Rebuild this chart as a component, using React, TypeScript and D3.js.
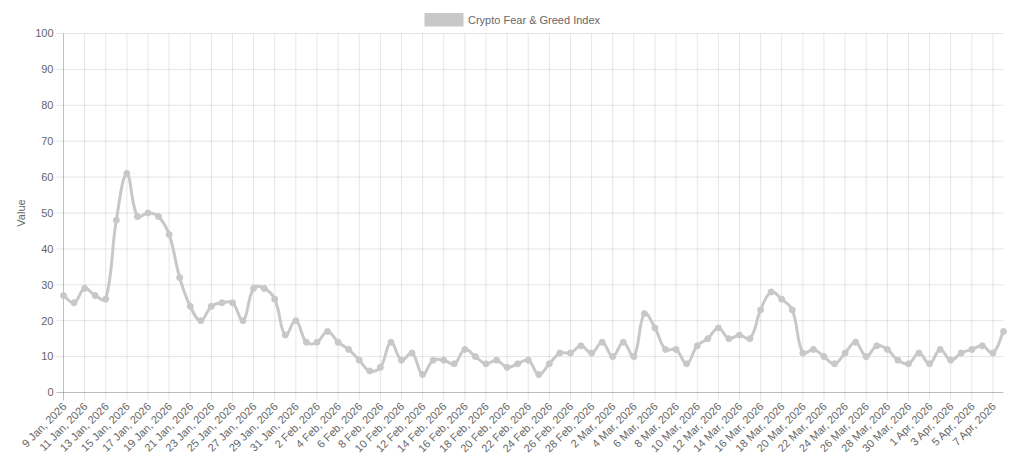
import React from "react";
import * as d3 from "d3";

const dates: string[] = [
  "9 Jan, 2026","10 Jan, 2026","11 Jan, 2026","12 Jan, 2026","13 Jan, 2026","14 Jan, 2026","15 Jan, 2026","16 Jan, 2026","17 Jan, 2026","18 Jan, 2026",
  "19 Jan, 2026","20 Jan, 2026","21 Jan, 2026","22 Jan, 2026","23 Jan, 2026","24 Jan, 2026","25 Jan, 2026","26 Jan, 2026","27 Jan, 2026","28 Jan, 2026",
  "29 Jan, 2026","30 Jan, 2026","31 Jan, 2026","1 Feb, 2026","2 Feb, 2026","3 Feb, 2026","4 Feb, 2026","5 Feb, 2026","6 Feb, 2026","7 Feb, 2026",
  "8 Feb, 2026","9 Feb, 2026","10 Feb, 2026","11 Feb, 2026","12 Feb, 2026","13 Feb, 2026","14 Feb, 2026","15 Feb, 2026","16 Feb, 2026","17 Feb, 2026",
  "18 Feb, 2026","19 Feb, 2026","20 Feb, 2026","21 Feb, 2026","22 Feb, 2026","23 Feb, 2026","24 Feb, 2026","25 Feb, 2026","26 Feb, 2026","27 Feb, 2026",
  "28 Feb, 2026","1 Mar, 2026","2 Mar, 2026","3 Mar, 2026","4 Mar, 2026","5 Mar, 2026","6 Mar, 2026","7 Mar, 2026","8 Mar, 2026","9 Mar, 2026",
  "10 Mar, 2026","11 Mar, 2026","12 Mar, 2026","13 Mar, 2026","14 Mar, 2026","15 Mar, 2026","16 Mar, 2026","17 Mar, 2026","18 Mar, 2026","19 Mar, 2026",
  "20 Mar, 2026","21 Mar, 2026","22 Mar, 2026","23 Mar, 2026","24 Mar, 2026","25 Mar, 2026","26 Mar, 2026","27 Mar, 2026","28 Mar, 2026","29 Mar, 2026",
  "30 Mar, 2026","31 Mar, 2026","1 Apr, 2026","2 Apr, 2026","3 Apr, 2026","4 Apr, 2026","5 Apr, 2026","6 Apr, 2026","7 Apr, 2026","8 Apr, 2026",
];

const values: number[] = [
  27, 25, 29, 27, 26, 48, 61, 49, 50, 49,
  44, 32, 24, 20, 24, 25, 25, 20, 29, 29,
  26, 16, 20, 14, 14, 17, 14, 12, 9, 6,
  7, 14, 9, 11, 5, 9, 9, 8, 12, 10,
  8, 9, 7, 8, 9, 5, 8, 11, 11, 13,
  11, 14, 10, 14, 10, 22, 18, 12, 12, 8,
  13, 15, 18, 15, 16, 15, 23, 28, 26, 23,
  11, 12, 10, 8, 11, 14, 10, 13, 12, 9,
  8, 11, 8, 12, 9, 11, 12, 13, 11, 17,
];

const yTicks: number[] = [0, 10, 20, 30, 40, 50, 60, 70, 80, 90, 100];
const seriesName = "Crypto Fear & Greed Index";
const yTitle = "Value";

const W = 1024;
const H = 462;
const M = { left: 63.5, right: 1003.5, top: 33.5, bottom: 392.5 };
const FONT = "'Liberation Sans', Arial, Helvetica, sans-serif";
const FS = 11;
const TEXT = "#666";
const LINE = "#c8c8c8";
const GRID = "rgba(0,0,0,0.1)";
const AXIS = "rgba(0,0,0,0.25)";

type P = { x: number; y: number };

function chartSplinePath(pts: P[], t: number, area: { l: number; r: number; t: number; b: number }) {
  const cap = (p: P): P => ({
    x: Math.max(area.l, Math.min(area.r, p.x)),
    y: Math.max(area.t, Math.min(area.b, p.y)),
  });
  const ctrl = pts.map((cur, i) => {
    const prev = pts[i - 1] || cur;
    const next = pts[i + 1] || cur;
    const d01 = Math.hypot(cur.x - prev.x, cur.y - prev.y);
    const d12 = Math.hypot(next.x - cur.x, next.y - cur.y);
    let s01 = d01 / (d01 + d12);
    let s12 = d12 / (d01 + d12);
    if (!isFinite(s01)) s01 = 0;
    if (!isFinite(s12)) s12 = 0;
    const fa = t * s01;
    const fb = t * s12;
    return {
      prev: cap({ x: cur.x - fa * (next.x - prev.x), y: cur.y - fa * (next.y - prev.y) }),
      next: cap({ x: cur.x + fb * (next.x - prev.x), y: cur.y + fb * (next.y - prev.y) }),
    };
  });
  const path = d3.path();
  pts.forEach((p, i) => {
    if (i === 0) path.moveTo(p.x, p.y);
    else path.bezierCurveTo(ctrl[i - 1].next.x, ctrl[i - 1].next.y, ctrl[i].prev.x, ctrl[i].prev.y, p.x, p.y);
  });
  return path.toString();
}

export default function App() {
  const x = d3.scalePoint<string>().domain(dates).range([M.left, M.right]);
  const y = d3.scaleLinear().domain([0, 100]).range([M.bottom, M.top]);

  const pts: P[] = values.map((v, i) => ({ x: x(dates[i]) as number, y: y(v) }));
  const d = chartSplinePath(pts, 0.4, { l: M.left, r: M.right, t: M.top, b: M.bottom });

  const shownTicks = dates.filter((_, i) => i % 2 === 0);

  return (
    <svg width={W} height={H} style={{ position: "absolute", left: 0, top: 0, display: "block", background: "#fff" }}>
      {/* horizontal grid */}
      {yTicks.map((t) => (
        <g key={"y" + t}>
          {t !== 0 && (
            <line x1={M.left - 7} x2={M.right} y1={y(t)} y2={y(t)} stroke={GRID} strokeWidth={1} />
          )}
          <text x={M.left - 10} y={y(t)} dy="0.35em" textAnchor="end" fontFamily={FONT} fontSize={FS} fill={TEXT}>
            {t}
          </text>
        </g>
      ))}
      {/* vertical grid */}
      {shownTicks.map((lab, i) => {
        const xx = x(lab) as number;
        return (
          <g key={"x" + lab}>
            {i !== 0 && <line x1={xx} x2={xx} y1={M.top} y2={M.bottom + 8} stroke={GRID} strokeWidth={1} />}
            <text
              transform={`translate(${xx + 1},${M.bottom + 12}) rotate(-45)`}
              textAnchor="end"
              dy="0.35em"
              fontFamily={FONT}
              fontSize={FS}
              fill={TEXT}
            >
              {lab}
            </text>
          </g>
        );
      })}
      {/* axes */}
      <line x1={M.left} x2={M.left} y1={M.top} y2={M.bottom + 8} stroke={AXIS} strokeWidth={1} />
      <line x1={M.left - 7} x2={M.right} y1={M.bottom} y2={M.bottom} stroke={AXIS} strokeWidth={1} />
      {/* y title */}
      <text
        transform={`translate(${21},${(M.top + M.bottom) / 2}) rotate(-90)`}
        textAnchor="middle"
        dy="0.35em"
        fontFamily={FONT}
        fontSize={FS}
        fill={TEXT}
      >
        {yTitle}
      </text>
      {/* legend */}
      <rect x={425} y={13.5} width={38} height={12.5} fill={LINE} stroke={LINE} strokeWidth={1} />
      <text x={468} y={20} dy="0.35em" fontFamily={FONT} fontSize={FS} fill={TEXT}>
        {seriesName}
      </text>
      {/* line */}
      <path d={d} fill="none" stroke={LINE} strokeWidth={3} />
      {pts.map((p, i) => (
        <circle key={i} cx={p.x} cy={p.y} r={3} fill={LINE} stroke={LINE} strokeWidth={1} />
      ))}
    </svg>
  );
}
